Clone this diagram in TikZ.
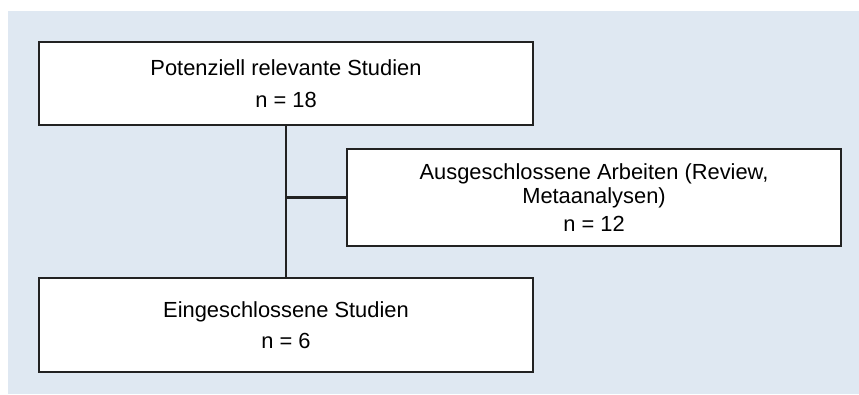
\documentclass[tikz,border=0pt]{standalone}
\usepackage{fontspec}
\setmainfont{Liberation Sans}
\definecolor{panelblue}{HTML}{DFE8F2}
\definecolor{boxline}{HTML}{222222}

\begin{document}
\begin{tikzpicture}[x=0.75pt, y=-0.75pt,
		studybox/.style={draw=boxline, line width=1.6pt, fill=white, minimum width=370.5pt, align=center, inner sep=0pt, font=\fontsize{16.4}{17.6}\selectfont},
		link/.style={draw=boxline, line width=1.6pt}]
			\useasboundingbox (0,0) rectangle (859,394);
			\fill[panelblue] (8,11) rectangle (859,394); % background
			\node[studybox, minimum height=62.25pt] (potenziell) at (286,83.5) {Potenziell relevante Studien\\[6.5pt] n = 18};
			\node[studybox, minimum height=72.75pt] (ausgeschl) at (594,197.5) {Ausgeschlossene Arbeiten (Review,\\ Metaanalysen)\\[3.5pt] n = 12};
			\node[studybox, minimum height=70.5pt] (eingeschl) at (286,325) {Eingeschlossene Studien\\[6pt] n = 6};
			\path[link] % flow
			(potenziell.south) -- (eingeschl.north)
			(ausgeschl.west) -- (ausgeschl.west -| potenziell.south);
			
		\end{tikzpicture}
\end{document}
